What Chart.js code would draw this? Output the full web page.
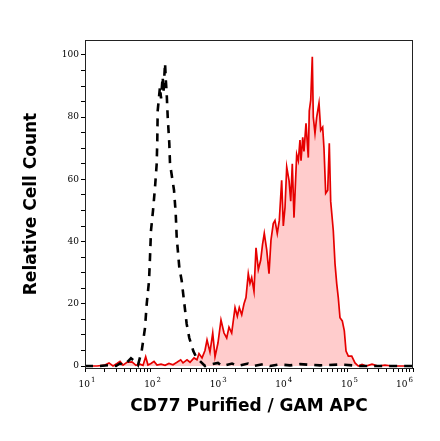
<!DOCTYPE html>
<html>
<head>
<meta charset="utf-8">
<script src="https://cdn.jsdelivr.net/npm/chart.js@4/dist/chart.umd.min.js"></script>
<style>
  html, body { margin: 0; padding: 0; background: #fff; }
  #wrap { width: 440px; height: 441px; }
</style>
</head>
<body>
<div id="wrap"><canvas id="histChart" width="440" height="441"></canvas></div>
<script>
// CD77 stained sample (red, filled) - fluorescence as log10 exponent, relative count
const stainedExp = [1.000, 1.183, 1.305, 1.366, 1.427, 1.488, 1.534, 1.579, 1.640, 1.716,
  1.777, 1.838, 1.884, 1.925, 1.960, 2.006, 2.052, 2.098, 2.159, 2.220,
  2.280, 2.341, 2.402, 2.459, 2.494, 2.555, 2.601, 2.662, 2.707, 2.738,
  2.784, 2.829, 2.860, 2.905, 2.947, 2.982, 3.027, 3.073, 3.119, 3.160,
  3.195, 3.236, 3.287, 3.322, 3.352, 3.389, 3.424, 3.454, 3.489, 3.515,
  3.541, 3.576, 3.607, 3.642, 3.678, 3.706, 3.733, 3.770, 3.805, 3.835,
  3.870, 3.896, 3.931, 3.962, 3.998, 4.023, 4.049, 4.075, 4.110, 4.136,
  4.160, 4.186, 4.227, 4.252, 4.277, 4.293, 4.319, 4.338, 4.369, 4.404,
  4.419, 4.441, 4.465, 4.480, 4.506, 4.532, 4.567, 4.593, 4.623, 4.643,
  4.669, 4.700, 4.724, 4.745, 4.785, 4.811, 4.837, 4.861, 4.887, 4.922,
  4.953, 4.979, 5.014, 5.066, 5.116, 5.166, 5.223, 5.284, 5.375, 5.466,
  5.573, 5.680, 6.000];
const stainedCount = [0, 0, 0.3, 1, 0, 0.8, 1.5, 0.3, 1.2, 1.3,
  0.2, 0.6, 0.2, 3, 0.3, 0.8, 1.5, 0.3, 0.6, 0.2,
  0.8, 0.4, 1.2, 2, 1, 2, 1.2, 2.6, 2, 4,
  2.6, 5, 8.4, 4.5, 10.6, 3, 7.4, 14.8, 10.6, 9,
  12.5, 10.6, 18.8, 16, 18.8, 16.5, 20, 22, 29.7, 26.5,
  28.4, 24, 38, 31, 34, 39, 42.6, 37.3, 29.7, 40.5,
  45.8, 46.8, 42.6, 46.8, 59.7, 45, 51, 64, 59.7, 53,
  65, 47.7, 68, 66, 72.6, 66, 73.5, 69, 78, 67,
  82, 85.5, 99.4, 80, 74.8, 80, 84.5, 75.8, 76.8, 70,
  55.5, 56.5, 71.6, 53, 43.5, 32.9, 26.5, 22, 15.5, 14.5,
  11.3, 4.8, 3.2, 3.2, 1, 0, 0.5, 0, 0.6, 0,
  0.3, 0, 0];

// isotype control (black, dashed)
const controlExp = [1.000, 1.229, 1.381, 1.473, 1.534, 1.595, 1.655, 1.701, 1.762, 1.808,
  1.864, 1.915, 1.941, 1.976, 1.991, 2.006, 2.037, 2.067, 2.093, 2.102,
  2.108, 2.143, 2.159, 2.184, 2.197, 2.220, 2.232, 2.245, 2.261, 2.285,
  2.296, 2.357, 2.383, 2.398, 2.438, 2.474, 2.509, 2.550, 2.590, 2.651,
  2.692, 2.753, 2.829, 2.905, 3.027, 3.088, 3.241, 3.332, 3.485, 3.576,
  3.713, 3.820, 3.957, 4.125, 4.277, 4.582, 4.887, 5.192, 6.000];
const controlCount = [0, 0, 0.3, 0, 0.8, 0.2, 1.5, 2.5, 1.5, 0.3,
  4.8, 12.3, 20, 27.4, 35, 43.5, 50, 57.4, 65, 72.6,
  82, 89.7, 86, 93, 88, 97.4, 92, 87.7, 80, 71.6,
  65, 56.5, 49, 41.3, 31.6, 27.4, 21, 13.5, 9, 4.8,
  3, 1.6, 0, 0.5, 1, 0, 0.8, 0, 0.8, 0,
  0.6, 0, 0.5, 0.2, 0.6, 0.2, 0.5, 0, 0];

const xDecades = [1, 2, 3, 4, 5, 6];
const yLabelTicks = [0, 20, 40, 60, 80, 100];

function toPoints(exps, counts) {
    return exps.map((e, i) => ({ x: Math.pow(10, e), y: counts[i] }));
}

// frame round the plot area
const frame = {
    id: 'frame',
    afterDraw(chart) {
        const a = chart.chartArea;
        const ctx = chart.ctx;
        ctx.save();
        ctx.strokeStyle = '#222';
        ctx.lineWidth = 1;
        ctx.strokeRect(a.left + 0.5, a.top + 0.5, a.right - a.left - 1, a.bottom - a.top);
        ctx.restore();
    }
};

// "10" with a raised exponent under each decade tick
const decadeLabels = {
    id: 'decadeLabels',
    afterDraw(chart) {
        const x = chart.scales.x;
        const ctx = chart.ctx;
        const baseY = x.top + 19;
        ctx.save();
        ctx.fillStyle = '#000';
        ctx.textBaseline = 'alphabetic';
        xDecades.forEach(d => {
            const px = x.getPixelForValue(Math.pow(10, d));
            ctx.font = '9px "DejaVu Serif"';
            const w10 = ctx.measureText('10').width;
            ctx.font = '7px "DejaVu Serif"';
            const wSup = ctx.measureText(String(d)).width;
            let left = px - (w10 + wSup + 1) / 2 + 2;
            left = Math.min(left, chart.width - 28 - w10 - wSup);
            ctx.font = '9px "DejaVu Serif"';
            ctx.textAlign = 'left';
            ctx.fillText('10', left, baseY);
            ctx.font = '7px "DejaVu Serif"';
            ctx.fillText(String(d), left + w10 + 1, baseY - 5);
        });
        ctx.restore();
    }
};

const ctx = document.getElementById('histChart').getContext('2d');
new Chart(ctx, {
    type: 'line',
    data: {
        datasets: [{
            label: 'Isotype control',
            data: toPoints(controlExp, controlCount),
            borderColor: '#000',
            borderWidth: 2.6,
            borderDash: [8, 7],
            borderCapStyle: 'butt',
            pointRadius: 0,
            tension: 0,
            fill: false
        }, {
            label: 'CD77 Purified / GAM APC',
            data: toPoints(stainedExp, stainedCount),
            borderColor: '#e60000',
            borderWidth: 1.7,
            backgroundColor: 'rgba(255, 0, 0, 0.2)',
            pointRadius: 0,
            tension: 0,
            fill: 'origin'
        }]
    },
    options: {
        responsive: false,
        animation: false,
        layout: { padding: { top: 40, right: 27, left: 0, bottom: 0 } },
        plugins: {
            legend: { display: false },
            tooltip: { enabled: false }
        },
        scales: {
            x: {
                type: 'logarithmic',
                min: 10,
                max: 1e6,
                border: { display: false },
                grid: { drawOnChartArea: false, drawTicks: true, tickLength: 4, color: '#000' },
                afterBuildTicks: (scale) => {
                    scale.ticks = scale.ticks.filter(t => {
                        const e = Math.floor(Math.log10(t.value) + 1e-9);
                        const k = t.value / Math.pow(10, e);
                        return Math.abs(k - Math.round(k)) < 1e-6;
                    });
                },
                ticks: {
                    autoSkip: false,
                    maxRotation: 0,
                    padding: 7,
                    font: { family: 'DejaVu Serif', size: 9 },
                    callback: () => ''
                },
                title: {
                    display: true,
                    text: 'CD77 Purified / GAM APC',
                    color: '#000',
                    font: { family: 'DejaVu Sans', size: 17, weight: 'bold' },
                    padding: { top: 0, bottom: 24 }
                },
                afterFit: (scale) => { scale.height = 73; }
            },
            y: {
                min: -0.64,
                max: 104.8,
                border: { display: false },
                grid: { drawOnChartArea: false, drawTicks: true, tickLength: 4, color: '#000' },
                ticks: {
                    stepSize: 5,
                    includeBounds: false,
                    autoSkip: false,
                    padding: 2,
                    color: '#000',
                    font: { family: 'DejaVu Serif', size: 9 },
                    callback: (value) => yLabelTicks.includes(value) ? String(value) : ''
                },
                title: {
                    display: true,
                    text: 'Relative Cell Count',
                    color: '#000',
                    font: { family: 'DejaVu Sans', size: 17, weight: 'bold' },
                    padding: { top: 21, bottom: 0 }
                },
                afterFit: (scale) => { scale.width = 85; }
            }
        }
    },
    plugins: [frame, decadeLabels]
});
</script>
</body>
</html>
